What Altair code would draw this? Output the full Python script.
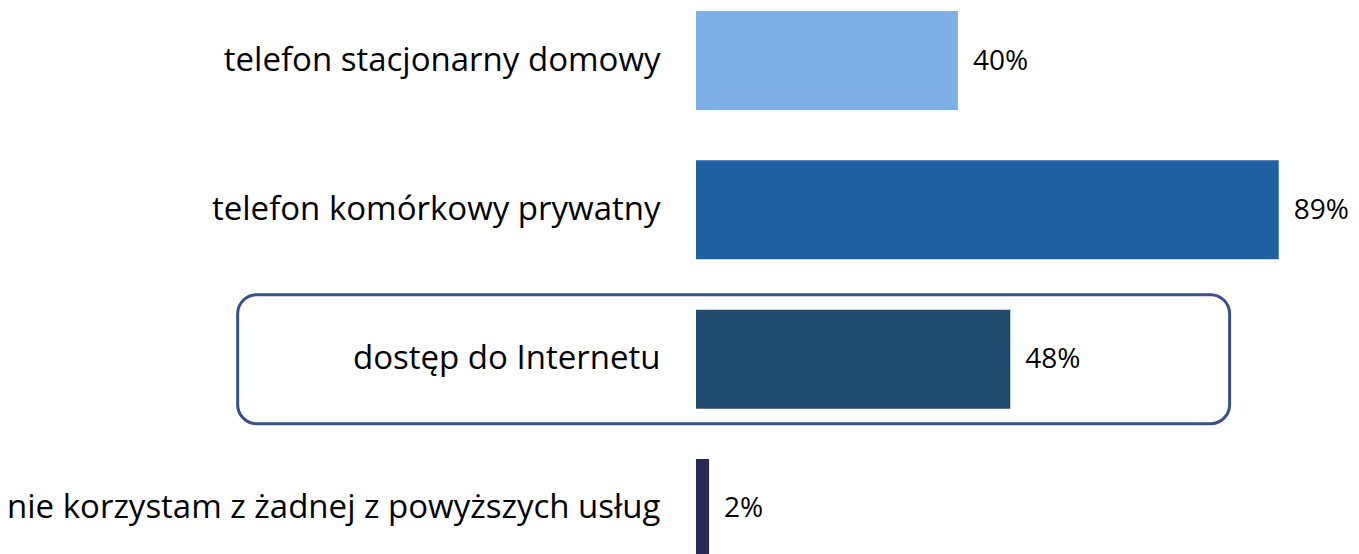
import altair as alt
import pandas as pd

categories = [
    "telefon stacjonarny domowy",
    "telefon komórkowy prywatny",
    "dostęp do Internetu",
    "nie korzystam z żadnej z powyższych usług",
]
values = [40, 89, 48, 2]
colors = ["#7FB0E5", "#1F60A0", "#204A6E", "#292956"]

highlight_category = ["dostęp do Internetu"]
highlight_x_start = [-70]
highlight_x_end = [81.5]

df = pd.DataFrame({"cat": categories, "v": values, "col": colors})
df["label"] = [f"{v}%" for v in values]
box = pd.DataFrame({"cat": highlight_category, "x0": highlight_x_start, "x1": highlight_x_end})

FONT = "Open Sans"

y_enc = alt.Y(
    "cat:N",
    sort=categories,
    title=None,
    scale=alt.Scale(paddingInner=0.337, paddingOuter=0, range=[0, 547]),
    axis=alt.Axis(
        domain=False,
        ticks=False,
        grid=False,
        labelPadding=36,
        labelFont=FONT,
        labelFontSize=33,
        labelColor="#000000",
        labelLimit=1000,
        zindex=2,
    ),
)
x_scale = alt.Scale(domain=[0, 95], nice=False, zero=True)
x_axis = None

box_layer = alt.Chart(box).mark_bar(
    height={"band": 1.303},
    cornerRadius=19,
    fill="transparent",
    stroke="#3A5088",
    strokeWidth=3,
).encode(
    y=y_enc,
    x=alt.X("x0:Q", scale=x_scale, axis=x_axis),
    x2="x1:Q",
)

bars = alt.Chart(df).mark_bar().encode(
    y=y_enc,
    x=alt.X("v:Q", scale=x_scale, axis=x_axis),
    color=alt.Color("col:N", scale=None, legend=None),
)

texts = alt.Chart(df).mark_text(
    align="left",
    baseline="middle",
    dx=15,
    dy=1,
    font=FONT,
    fontSize=28,
    color="#000000",
).encode(
    y=y_enc,
    x=alt.X("v:Q", scale=x_scale, axis=x_axis),
    text="label:N",
)

chart = (
    alt.layer(box_layer, bars, texts)
    .properties(
        width=622,
        height=543,
        autosize=alt.AutoSizeParams(type="none"),
        padding={"left": 688, "top": 3, "right": 32, "bottom": 0},
        view=alt.ViewBackground(stroke="transparent", strokeWidth=0),
    )
    .configure_view(strokeWidth=0, stroke="transparent")
    .configure(background="white")
)

chart.save("out.html", embed_options={"renderer": "svg", "actions": False})
